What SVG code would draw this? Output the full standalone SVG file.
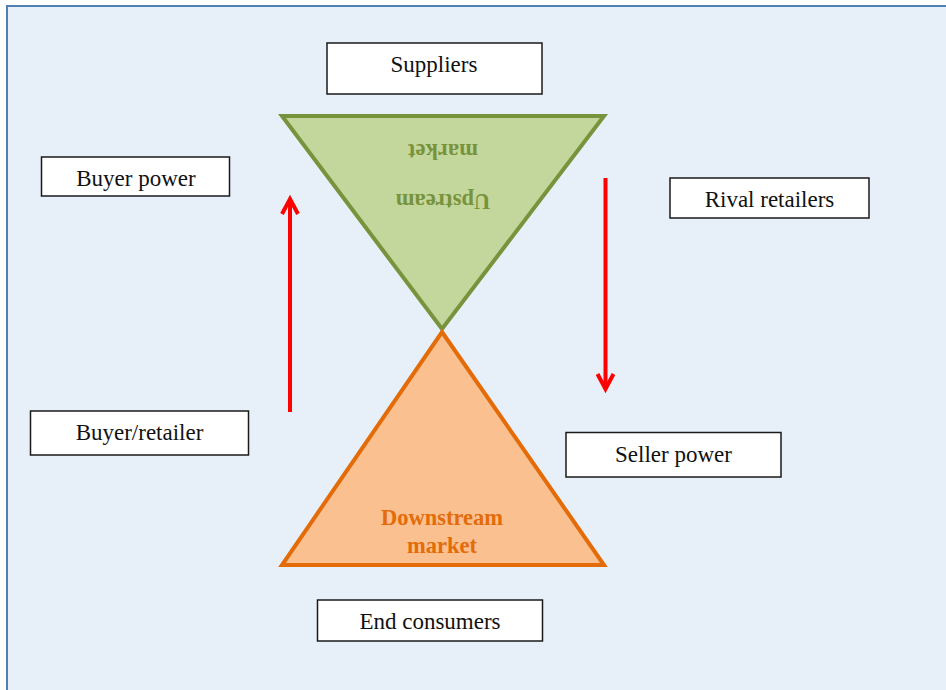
<svg xmlns="http://www.w3.org/2000/svg" width="946" height="690" viewBox="0 0 946 690">
<defs>
<style>
.box rect{fill:#ffffff;stroke:#1a1a1a;stroke-width:1.5}
.box text{font-family:"Liberation Serif","Times New Roman",serif;font-size:23px;fill:#111;text-anchor:middle}
.tri-label{font-family:"Liberation Serif","Times New Roman",serif;font-size:22.5px;font-weight:bold;text-anchor:middle}
.arrow{stroke:#ff0000;stroke-width:4;fill:none;stroke-linecap:butt;stroke-linejoin:miter}
</style>
</defs>
<rect x="7" y="6" width="960" height="700" fill="#e7eff9" stroke="#4f7fb3" stroke-width="2"/>
<g id="upstream">
<polygon points="282,116 604,116 442,329" fill="#c3d69b" stroke="#77933c" stroke-width="4"/>
<text class="tri-label" fill="#77933c" transform="translate(443,194) rotate(180)">Upstream</text>
<text class="tri-label" fill="#77933c" transform="translate(443,144) rotate(180)">market</text>
</g>
<g id="downstream">
<polygon points="442,332 604,565 282,565" fill="#fac090" stroke="#e36c09" stroke-width="4"/>
<text class="tri-label" fill="#e36c09" x="442" y="525">Downstream</text>
<text class="tri-label" fill="#e36c09" x="442" y="553">market</text>
</g>
<g id="suppliers" class="box"><rect x="327" y="43" width="215" height="51"/><text x="434" y="72">Suppliers</text></g>
<g id="buyer-power" class="box"><rect x="41.5" y="157" width="188" height="39"/><text x="136" y="186">Buyer power</text></g>
<g id="rival-retailers" class="box"><rect x="670" y="178" width="199" height="40"/><text x="769.5" y="207">Rival retailers</text></g>
<g id="buyer-retailer" class="box"><rect x="30.5" y="411" width="218" height="44"/><text x="139.5" y="440">Buyer/retailer</text></g>
<g id="seller-power" class="box"><rect x="566" y="432.5" width="215" height="44.5"/><text x="673.5" y="462">Seller power</text></g>
<g id="end-consumers" class="box"><rect x="317.5" y="600" width="225" height="41"/><text x="430" y="629">End consumers</text></g>
<g id="connectors">
<path class="arrow" d="M290,412 V199"/>
<path class="arrow" d="M282,214 L290,199 L298,214"/>
<path class="arrow" d="M605.5,178 V389"/>
<path class="arrow" d="M597.5,374 L605.5,389 L613.5,374"/>
</g>
</svg>
